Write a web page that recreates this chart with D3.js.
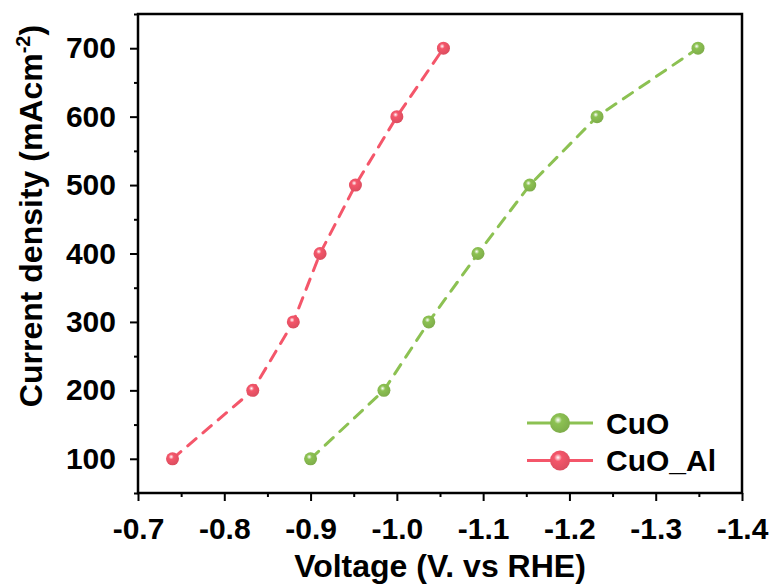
<!DOCTYPE html>
<html>
<head>
<meta charset="utf-8">
<script src="https://d3js.org/d3.v7.min.js"></script>
<style>
    body { margin: 0; background: #fff; }
    text { font-family: "Liberation Sans", Arial, sans-serif; font-weight: bold; fill: #000; }
</style>
</head>
<body>
<div id="chart"></div>
<script>
// Current density levels (mA cm^-2)
const currentDensity = [100, 200, 300, 400, 500, 600, 700];
// Voltage (V vs RHE) needed to reach each level
const cuoVoltage   = [-0.900, -0.985, -1.037, -1.094, -1.154, -1.232, -1.349];
const cuoAlVoltage = [-0.740, -0.833, -0.880, -0.911, -0.952, -1.000, -1.054];
const seriesNames  = ["CuO", "CuO_Al"];
const xTicks = [-0.7, -0.8, -0.9, -1.0, -1.1, -1.2, -1.3, -1.4];
const yTicks = [100, 200, 300, 400, 500, 600, 700];

const W = 776, H = 587;
const margin = { top: 14, right: 34, bottom: 94, left: 138 };
const width = W - margin.left - margin.right;
const height = H - margin.top - margin.bottom;

const colors = { "CuO": "#8cc152", "CuO_Al": "#f4566a" };

const svg = d3.select("#chart").append("svg")
    .attr("width", W).attr("height", H);

// sphere-ish gradients for markers
const defs = svg.append("defs");
seriesNames.forEach((name, i) => {
    const g = defs.append("radialGradient")
        .attr("id", "grad" + i)
        .attr("cx", "40%").attr("cy", "35%").attr("r", "65%");
    g.append("stop").attr("offset", "0%").attr("stop-color", "#ffffff");
    g.append("stop").attr("offset", "30%").attr("stop-color", colors[name]);
    g.append("stop").attr("offset", "100%").attr("stop-color", d3.color(colors[name]).darker(0.3));
});

const plot = svg.append("g").attr("transform", `translate(${margin.left},${margin.top})`);

const x = d3.scaleLinear().domain([-0.7, -1.4]).range([0, width]);
const y = d3.scaleLinear().domain([50, 750]).range([height, 0]);

// minor ticks
const xMinor = d3.range(-0.75, -1.4, -0.1);
const yMinor = d3.range(50, 751, 100);

const xAxis = plot.append("g")
    .attr("transform", `translate(0,${height})`)
    .call(d3.axisBottom(x).tickValues(xTicks).tickFormat(d => d3.format(".1f")(d).replace("\u2212", "-")).tickSize(8).tickPadding(17));
plot.append("g")
    .attr("transform", `translate(0,${height})`)
    .call(d3.axisBottom(x).tickValues(xMinor).tickFormat("").tickSize(4));

const yAxis = plot.append("g")
    .call(d3.axisLeft(y).tickValues(yTicks).tickSize(8).tickPadding(14));
plot.append("g")
    .call(d3.axisLeft(y).tickValues(yMinor).tickFormat("").tickSize(4));

plot.selectAll(".domain").remove();
plot.selectAll(".tick line").attr("stroke", "#000").attr("stroke-width", 2);
plot.selectAll(".tick text")
    .attr("font-size", 30)
    .attr("font-family", "Liberation Sans, Arial, sans-serif")
    .attr("font-weight", "bold");

// frame
plot.append("rect")
    .attr("width", width).attr("height", height)
    .attr("fill", "none").attr("stroke", "#000").attr("stroke-width", 2.5);

const series = [
    { name: "CuO", values: cuoVoltage },
    { name: "CuO_Al", values: cuoAlVoltage }
];

const line = d3.line()
    .x(d => x(d[0]))
    .y(d => y(d[1]));

series.forEach((s, i) => {
    const pts = s.values.map((v, j) => [v, currentDensity[j]]);
    plot.append("path")
        .datum(pts)
        .attr("fill", "none")
        .attr("stroke", colors[s.name])
        .attr("stroke-width", 3)
        .attr("stroke-dasharray", "11,9")
        .attr("stroke-linecap", "round")
        .attr("d", line);
    plot.selectAll(".pt" + i)
        .data(pts).enter().append("circle")
        .attr("cx", d => x(d[0]))
        .attr("cy", d => y(d[1]))
        .attr("r", 6.5)
        .attr("fill", `url(#grad${i})`);
});

// legend
const legend = svg.append("g").attr("transform", "translate(527,423)");
seriesNames.forEach((name, i) => {
    const g = legend.append("g").attr("transform", `translate(0,${i * 37.5})`);
    g.append("line").attr("x1", 0).attr("x2", 66).attr("y1", 0).attr("y2", 0)
        .attr("stroke", colors[name]).attr("stroke-width", 3);
    g.append("circle").attr("cx", 33).attr("cy", 0).attr("r", 10)
        .attr("fill", `url(#grad${i})`);
    g.append("text").attr("x", 79).attr("y", 10.5).attr("font-size", 30).text(name);
});

// axis titles
svg.append("text")
    .attr("x", margin.left + width / 2).attr("y", 577)
    .attr("text-anchor", "middle").attr("font-size", 32)
    .text("Voltage (V. vs RHE)");

const yt = svg.append("text")
    .attr("transform", "translate(42,216) rotate(-90)")
    .attr("text-anchor", "middle").attr("font-size", 32);
yt.append("tspan").text("Current density (mAcm");
yt.append("tspan").attr("font-size", 20).attr("dy", -12).text("-2");
yt.append("tspan").attr("dy", 12).text(")");
</script>
</body>
</html>
